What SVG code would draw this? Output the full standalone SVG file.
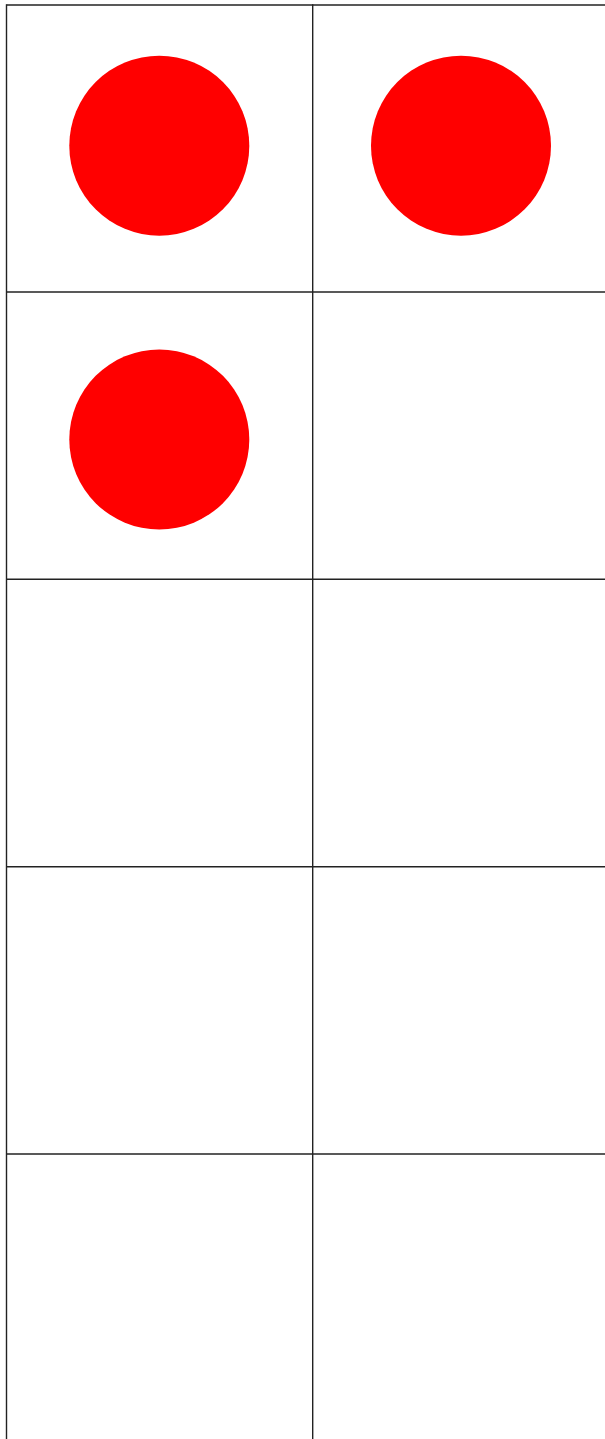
<svg xmlns="http://www.w3.org/2000/svg" width="605" height="1439" viewBox="0 0 605 1439">
<style>
.g{stroke:#222;stroke-width:1.4;fill:none}
.c{fill:#ff0000}
</style>
<rect width="605" height="1439" fill="#fff"/>
<g id="grid">
<line class="g" x1="6.5" y1="5" x2="605" y2="5"/>
<line class="g" x1="6.5" y1="292" x2="605" y2="292"/>
<line class="g" x1="6.5" y1="579.3" x2="605" y2="579.3"/>
<line class="g" x1="6.5" y1="866.7" x2="605" y2="866.7"/>
<line class="g" x1="6.5" y1="1154" x2="605" y2="1154"/>
<line class="g" x1="6.5" y1="4.3" x2="6.5" y2="1439"/>
<line class="g" x1="312.7" y1="4.3" x2="312.7" y2="1439"/>
</g>
<g id="circle1"><circle class="c" cx="159.3" cy="145.7" r="90"/></g>
<g id="circle2"><circle class="c" cx="461" cy="145.7" r="90"/></g>
<g id="circle3"><circle class="c" cx="159.3" cy="439.5" r="90"/></g>
</svg>
